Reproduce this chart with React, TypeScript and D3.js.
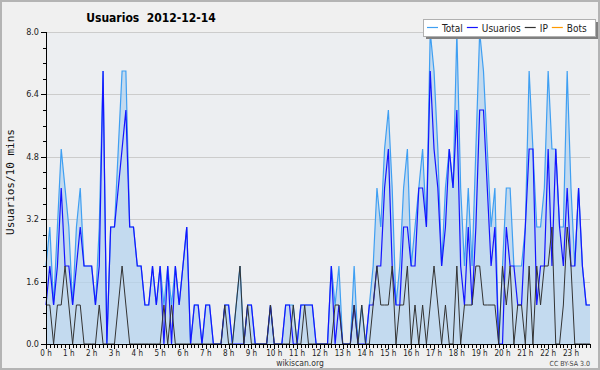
import { useEffect, useRef } from "react";
import * as d3 from "d3";

// 10-minute slots, 144 per day
const total = [
  2, 3, 1, 3, 5, 4, 3, 1, 3, 4, 2, 2, 2, 1, 3, 7, 0, 3, 3, 5, 7, 7, 3, 3,
  2, 2, 1, 1, 2, 1, 2, 1, 2, 1, 2, 1, 2, 3, 0, 1, 1, 0, 1, 1, 0, 0, 0, 1,
  1, 0, 1, 2, 0, 1, 1, 0, 0, 0, 0, 1, 0, 0, 0, 1, 1, 1, 0, 1, 1, 1, 1, 0,
  0, 0, 0, 2, 1, 2, 0, 0, 0, 2, 0, 1, 0, 1, 2, 4, 3, 5, 6, 4, 1, 2, 4, 5,
  2, 3, 4, 5, 3, 8, 7, 5, 2, 4, 5, 4, 8, 4, 2, 4, 2, 5, 8, 7, 5, 3, 4, 0,
  2, 4, 4, 2, 2, 2, 3, 7, 5, 3, 3, 4, 7, 5, 5, 3, 3, 7, 4, 2, 4, 2, 1, 1,
];
const usuarios = [
  1, 2, 1, 2, 4, 2, 2, 1, 2, 3, 2, 2, 2, 1, 2, 7, 0, 3, 3, 4, 5, 6, 3, 3,
  2, 2, 1, 1, 2, 1, 2, 0, 2, 0, 2, 1, 2, 3, 0, 1, 1, 0, 1, 1, 0, 0, 0, 1,
  1, 0, 0, 0, 0, 1, 1, 0, 0, 0, 0, 1, 0, 0, 0, 1, 1, 0, 0, 1, 1, 1, 1, 0,
  0, 0, 0, 2, 0, 1, 0, 0, 0, 1, 0, 0, 0, 1, 1, 2, 2, 4, 5, 2, 1, 1, 3, 3,
  2, 2, 4, 4, 3, 7, 5, 4, 2, 3, 5, 4, 6, 2, 1, 3, 1, 3, 6, 6, 4, 2, 3, 0,
  0, 3, 2, 2, 1, 1, 3, 5, 5, 1, 2, 2, 5, 2, 5, 3, 2, 4, 2, 2, 4, 2, 1, 1,
];
const ip = [
  1, 1, 0, 1, 1, 2, 1, 0, 1, 1, 0, 0, 0, 0, 1, 0, 0, 0, 0, 1, 2, 1, 0, 0,
  0, 0, 0, 0, 0, 0, 0, 1, 0, 1, 0, 0, 0, 0, 0, 0, 0, 0, 0, 0, 0, 0, 0, 1,
  0, 0, 1, 2, 0, 1, 0, 0, 0, 0, 0, 1, 0, 0, 0, 0, 0, 1, 0, 0, 1, 0, 0, 0,
  0, 0, 0, 0, 1, 1, 0, 0, 0, 1, 0, 1, 0, 0, 1, 2, 1, 1, 1, 2, 0, 1, 1, 2,
  0, 1, 0, 1, 0, 1, 2, 1, 0, 1, 0, 0, 2, 0, 1, 1, 1, 2, 2, 1, 1, 1, 1, 0,
  2, 1, 2, 0, 1, 1, 0, 2, 0, 2, 1, 2, 2, 3, 0, 0, 1, 3, 2, 0, 0, 0, 0, 0,
];
const bots = [
  0, 0, 0, 0, 0, 0, 0, 0, 0, 0, 0, 0, 0, 0, 0, 0, 0, 0, 0, 0, 0, 0, 0, 0,
  0, 0, 0, 0, 0, 0, 0, 0, 0, 0, 0, 0, 0, 0, 0, 0, 0, 0, 0, 0, 0, 0, 0, 0,
  0, 0, 0, 0, 0, 0, 0, 0, 0, 0, 0, 0, 0, 0, 0, 0, 0, 0, 0, 0, 0, 0, 0, 0,
  0, 0, 0, 0, 0, 0, 0, 0, 0, 0, 0, 0, 0, 0, 0, 0, 0, 0, 0, 0, 0, 0, 0, 0,
  0, 0, 0, 0, 0, 0, 0, 0, 0, 0, 0, 0, 0, 0, 0, 0, 0, 0, 0, 0, 0, 0, 0, 0,
  0, 0, 0, 0, 0, 0, 0, 0, 0, 0, 0, 0, 0, 0, 0, 0, 0, 0, 0, 0, 0, 0, 0, 0,
];

const yTicks = [0, 1.6, 3.2, 4.8, 6.4, 8.0];
const hourLabels = [
  "0 h", "1 h", "2 h", "3 h", "4 h", "5 h", "6 h", "7 h", "8 h", "9 h", "10 h", "11 h",
  "12 h", "13 h", "14 h", "15 h", "16 h", "17 h", "18 h", "19 h", "20 h", "21 h", "22 h", "23 h",
];
const seriesNames = ["Total", "Usuarios", "IP", "Bots"];
const seriesColors = ["#3f9ff2", "#1414ff", "#333333", "#ff9a00"];

const W = 600;
const H = 370;
const font = "'DejaVu Sans Condensed', 'DejaVu Sans', sans-serif";

export default function App() {
  const ref = useRef<SVGSVGElement>(null);

  useEffect(() => {
    const svg = d3.select(ref.current);
    svg.selectAll("*").remove();

    const margin = { left: 46, right: 10, top: 32, bottom: 26 };
    const x = d3.scaleLinear().domain([0, total.length - 1]).range([margin.left, W - margin.right]);
    const y = d3.scaleLinear().domain([0, 8]).range([H - margin.bottom, margin.top]);

    svg.append("rect")
      .attr("x", 1).attr("y", 1).attr("width", W - 2).attr("height", H - 2)
      .attr("fill", "#f0f0f0").attr("stroke", "#b4b4b4").attr("stroke-width", 2);

    svg.append("rect")
      .attr("x", x(0)).attr("y", y(8))
      .attr("width", x(total.length - 1) - x(0)).attr("height", y(0) - y(8))
      .attr("fill", "#eceef1");

    // grid
    svg.append("g")
      .selectAll("line")
      .data(yTicks.slice(1))
      .join("line")
      .attr("x1", x(0)).attr("x2", x(total.length - 1))
      .attr("y1", d => Math.round(y(d)) + 0.5).attr("y2", d => Math.round(y(d)) + 0.5)
      .attr("stroke", "#cccccc");

    const area = d3.area<number>()
      .x((_, i) => x(i))
      .y0(y(0))
      .y1(d => y(d));

    svg.append("path")
      .datum(total)
      .attr("d", area)
      .attr("fill", "#b3d2ef")
      .attr("fill-opacity", 0.72);

    const line = d3.line<number>()
      .x((_, i) => x(i))
      .y(d => y(d));

    [total, usuarios, ip, bots].forEach((s, k) => {
      if (k === 3) return;
      svg.append("path")
        .datum(s)
        .attr("d", line)
        .attr("fill", "none")
        .attr("stroke", seriesColors[k])
        .attr("stroke-width", k === 2 ? 1 : 1.2)
        .attr("stroke-linejoin", "miter");
    });

    // axes
    const axisColor = "#000";
    svg.append("line")
      .attr("x1", x(0) + 0.5).attr("x2", x(0) + 0.5)
      .attr("y1", y(8)).attr("y2", y(0))
      .attr("stroke", axisColor);
    svg.append("line")
      .attr("x1", x(0)).attr("x2", x(total.length - 1))
      .attr("y1", y(0) + 0.5).attr("y2", y(0) + 0.5)
      .attr("stroke", axisColor);

    const minorY = d3.range(0, 8.01, 0.4);
    svg.append("g")
      .selectAll("line")
      .data(minorY)
      .join("line")
      .attr("x1", d => (yTicks.some(t => Math.abs(t - d) < 1e-6) ? x(0) - 5 : x(0) - 3))
      .attr("x2", x(0))
      .attr("y1", d => Math.round(y(d)) + 0.5).attr("y2", d => Math.round(y(d)) + 0.5)
      .attr("stroke", axisColor);

    svg.append("g")
      .selectAll("text")
      .data(yTicks)
      .join("text")
      .attr("x", x(0) - 7)
      .attr("y", d => y(d) + 3)
      .attr("text-anchor", "end")
      .attr("font-family", font)
      .attr("font-size", 9)
      .attr("fill", "#222")
      .text(d => d.toFixed(1));

    svg.append("g")
      .selectAll("line")
      .data(total.map((_, i) => i))
      .join("line")
      .attr("x1", i => Math.round(x(i)) + 0.5).attr("x2", i => Math.round(x(i)) + 0.5)
      .attr("y1", y(0)).attr("y2", i => (i % 6 === 0 ? y(0) + 5 : y(0) + 4))
      .attr("stroke", axisColor);

    svg.append("g")
      .selectAll("text")
      .data(hourLabels)
      .join("text")
      .attr("x", (_, h) => x(h * 6))
      .attr("y", y(0) + 12)
      .attr("text-anchor", "middle")
      .attr("font-family", font)
      .attr("font-size", 8)
      .attr("fill", "#222")
      .text(d => d);

    // titles
    svg.append("text")
      .attr("x", 151).attr("y", 22)
      .attr("text-anchor", "middle")
      .attr("font-family", font)
      .attr("font-weight", "bold")
      .attr("font-size", 12)
      .style("white-space", "pre")
      .text("Usuarios  2012-12-14");

    svg.append("text")
      .attr("transform", `translate(14,${(y(0) + y(8)) / 2 - 6}) rotate(-90)`)
      .attr("text-anchor", "middle")
      .attr("font-family", "'DejaVu Sans Mono', monospace")
      .attr("font-size", 11)
      .attr("fill", "#111")
      .text("Usuarios/10 mins");

    svg.append("text")
      .attr("x", W / 2).attr("y", 366)
      .attr("text-anchor", "middle")
      .attr("font-family", font)
      .attr("font-size", 8.5)
      .attr("fill", "#333")
      .text("wikiscan.org");

    svg.append("text")
      .attr("x", 590).attr("y", 366)
      .attr("text-anchor", "end")
      .attr("font-family", font)
      .attr("font-size", 7)
      .attr("fill", "#444")
      .text("CC BY-SA 3.0");

    // legend
    const lg = svg.append("g");
    lg.append("rect")
      .attr("x", 426).attr("y", 22).attr("width", 172).attr("height", 17)
      .attr("fill", "#808080");
    lg.append("rect")
      .attr("x", 423.5).attr("y", 19.5).attr("width", 172).attr("height", 17)
      .attr("fill", "#fff").attr("stroke", "#b0b0b0");
    let cx = 427;
    seriesNames.forEach((name, k) => {
      lg.append("line")
        .attr("x1", cx).attr("x2", cx + 11)
        .attr("y1", 27.5).attr("y2", 27.5)
        .attr("stroke", seriesColors[k]).attr("stroke-width", 1.2);
      const t = lg.append("text")
        .attr("x", cx + 15).attr("y", 31.5)
        .attr("font-family", font)
        .attr("font-size", 10)
        .attr("fill", "#222")
        .text(name);
      const w = (t.node() as SVGTextElement).getComputedTextLength();
      cx += 15 + w + 4;
    });
  }, []);

  return (
    <div style={{ position: "absolute", left: 0, top: 0 }}>
      <svg ref={ref} width={W} height={H} />
    </div>
  );
}
